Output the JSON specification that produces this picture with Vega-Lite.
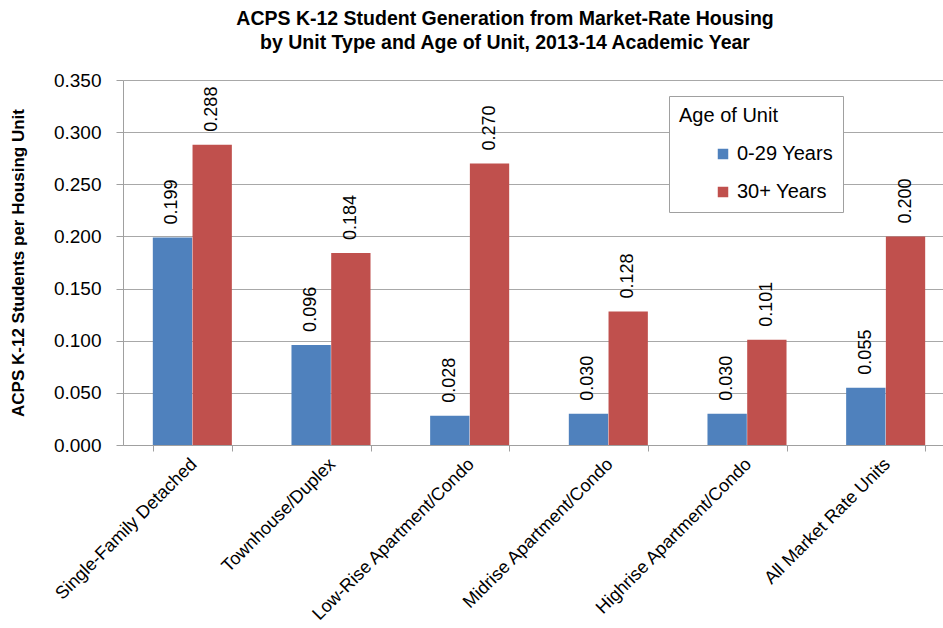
{
  "$schema": "https://vega.github.io/schema/vega-lite/v6.json",
  "width": 832,
  "height": 365,
  "padding": {"left": 9, "top": 8, "right": 0, "bottom": 0},
  "background": "white",
  "title": {
    "text": ["ACPS K-12 Student Generation from Market-Rate Housing", "by Unit Type and Age of Unit, 2013-14 Academic Year"],
    "font": "Liberation Sans",
    "fontSize": 19.5,
    "fontWeight": "bold",
    "color": "#000000",
    "anchor": "middle",
    "frame": "group",
    "offset": 18,
    "lineHeight": 24,
    "dx": -34
  },
  "config": {
    "view": {"stroke": null},
    "font": "Liberation Sans"
  },
  "data": {
    "values": [
      {"unit": "Single-Family Detached", "age": "0-29 Years", "value": 0.199},
      {"unit": "Single-Family Detached", "age": "30+ Years", "value": 0.288},
      {"unit": "Townhouse/Duplex", "age": "0-29 Years", "value": 0.096},
      {"unit": "Townhouse/Duplex", "age": "30+ Years", "value": 0.184},
      {"unit": "Low-Rise Apartment/Condo", "age": "0-29 Years", "value": 0.028},
      {"unit": "Low-Rise Apartment/Condo", "age": "30+ Years", "value": 0.270},
      {"unit": "Midrise Apartment/Condo", "age": "0-29 Years", "value": 0.030},
      {"unit": "Midrise Apartment/Condo", "age": "30+ Years", "value": 0.128},
      {"unit": "Highrise Apartment/Condo", "age": "0-29 Years", "value": 0.030},
      {"unit": "Highrise Apartment/Condo", "age": "30+ Years", "value": 0.101},
      {"unit": "All Market Rate Units", "age": "0-29 Years", "value": 0.055},
      {"unit": "All Market Rate Units", "age": "30+ Years", "value": 0.200}
    ]
  },
  "encoding": {
    "x": {
      "field": "unit",
      "type": "nominal",
      "sort": null,
      "scale": {"paddingInner": 0.43, "paddingOuter": 0.215},
      "axis": {
        "title": null,
        "labelAngle": -45,
        "labelAlign": "right",
        "labelBaseline": "top",
        "labelFont": "Liberation Sans",
        "labelFontSize": 18,
        "labelColor": "#000000",
        "labelLimit": 0,
        "labelPadding": 4,
        "labelOffset": -5,
        "domainColor": "#a0a0a0",
        "ticks": true,
        "tickBand": "extent",
        "tickSize": 6,
        "tickColor": "#a0a0a0",
        "grid": false
      }
    },
    "xOffset": {"field": "age", "type": "nominal", "scale": {"paddingInner": 0.01}},
    "y": {
      "field": "value",
      "type": "quantitative",
      "scale": {"domain": [0, 0.35], "nice": false},
      "axis": {
        "title": "ACPS K-12 Students per Housing Unit",
        "titleFont": "Liberation Sans",
        "titleFontSize": 17,
        "titleFontWeight": "bold",
        "titleColor": "#000000",
        "titlePadding": 26,
        "values": [0, 0.05, 0.1, 0.15, 0.2, 0.25, 0.3, 0.35],
        "format": ".3f",
        "labelFont": "Liberation Sans",
        "labelFontSize": 19,
        "labelColor": "#000000",
        "labelPadding": 15,
        "tickSize": 7,
        "tickColor": "#a0a0a0",
        "domainColor": "#a0a0a0",
        "gridColor": "#a8a8a8",
        "grid": true
      }
    }
  },
  "layer": [
    {
      "mark": {"type": "bar"},
      "encoding": {
        "color": {
          "field": "age",
          "type": "nominal",
          "scale": {"domain": ["0-29 Years", "30+ Years"], "range": ["#4f81bd", "#c0504d"]},
          "legend": {
            "title": "Age of Unit",
            "orient": "none",
            "legendX": 546,
            "legendY": 16,
            "titleFont": "Liberation Sans",
            "titleFontSize": 20,
            "titleFontWeight": "normal",
            "titleColor": "#000000",
            "titlePadding": 18,
            "labelFont": "Liberation Sans",
            "labelFontSize": 20,
            "labelColor": "#000000",
            "labelOffset": 4,
            "symbolType": "square",
            "symbolSize": 110,
            "symbolStrokeWidth": 0,
            "symbolOffset": 34,
            "rowPadding": 18,
            "padding": 10,
            "strokeColor": "#a0a0a0",
            "fillColor": "white"
          }
        }
      }
    },
    {
      "mark": {
        "type": "text",
        "angle": 270,
        "align": "left",
        "baseline": "middle",
        "dx": 13,
        "font": "Liberation Sans",
        "fontSize": 18,
        "color": "#000000"
      },
      "encoding": {
        "text": {"field": "value", "type": "quantitative", "format": ".3f"}
      }
    }
  ]
}
